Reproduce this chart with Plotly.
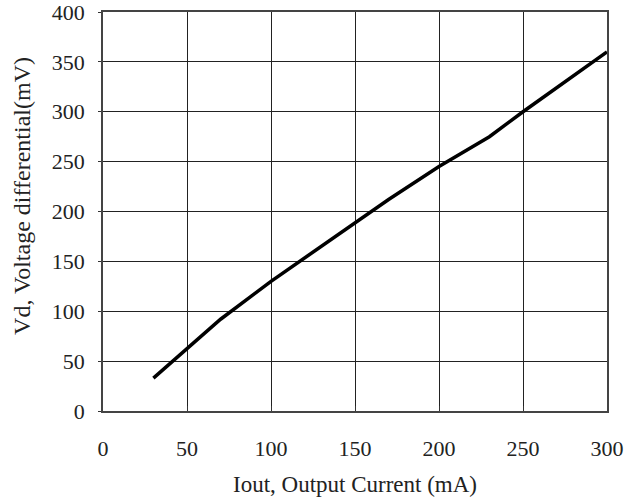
import plotly.graph_objects as go

iout_ma = [30, 50, 70, 100, 130, 150, 170, 200, 230, 250, 300]
vd_mv = [33, 63, 92, 130, 165, 188, 212, 245, 275, 300, 360]

x_ticks = [0, 50, 100, 150, 200, 250, 300]
y_ticks = [0, 50, 100, 150, 200, 250, 300, 350, 400]

x_title = "Iout, Output Current (mA)"
y_title = "Vd, Voltage differential(mV)"

font_family = "Liberation Serif, 'Times New Roman', DejaVu Serif, serif"

fig = go.Figure()
fig.add_trace(go.Scatter(
    x=iout_ma, y=vd_mv, mode="lines",
    line=dict(color="black", width=3.5),
    showlegend=False,
))

fig.update_layout(
    width=638, height=502,
    margin=dict(l=103, r=31, t=12, b=91),
    paper_bgcolor="white", plot_bgcolor="white",
    font=dict(family=font_family, size=22, color="#222"),
)
fig.update_xaxes(
    range=[0, 300], tickvals=x_ticks, ticks="inside", ticklen=5,
    tickcolor="#333", showgrid=True, gridcolor="#222", gridwidth=1,
    showline=True, linecolor="#444", linewidth=1.5, mirror=True,
    zeroline=False, ticklabelstandoff=17, automargin=False,
    ticklabeloverflow="allow",
    title=dict(text=x_title, standoff=16, font=dict(size=23)),
)
fig.update_yaxes(
    range=[0, 400], tickvals=y_ticks, ticks="outside", ticklen=3,
    tickcolor="#333", showgrid=True, gridcolor="#222", gridwidth=1,
    showline=True, linecolor="#444", linewidth=1.5, mirror=True,
    zeroline=False, ticklabelstandoff=9, automargin=False,
    ticklabeloverflow="allow",
)
fig.add_annotation(
    text=y_title, textangle=-90, showarrow=False,
    xref="paper", yref="paper", x=-0.1607, y=0.539,
    xanchor="center", yanchor="middle",
    font=dict(size=24, family=font_family, color="#222"),
)

fig.write_html("out.html", config={"displayModeBar": False},
               post_script="document.body.style.margin='0';")
